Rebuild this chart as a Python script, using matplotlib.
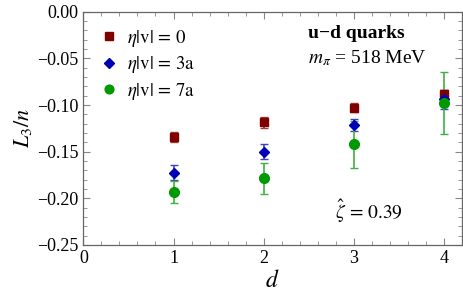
import matplotlib
matplotlib.use("Agg")
import matplotlib.pyplot as plt
from matplotlib.lines import Line2D
from matplotlib.ticker import MultipleLocator, FuncFormatter

plt.rcParams["font.family"] = ["Liberation Serif", "DejaVu Serif"]
plt.rcParams["mathtext.fontset"] = "stix"

d = [1, 2, 3, 4]

# eta|v| = 0
y0 = [-0.134, -0.1186, -0.1029, -0.0877]
e0 = [0.0055, 0.0055, 0.0048, 0.004]
# eta|v| = 3a
y3 = [-0.1725, -0.150, -0.1214, -0.094]
e3 = [0.0084, 0.0084, 0.0068, 0.0098]
# eta|v| = 7a
y7 = [-0.193, -0.1786, -0.142, -0.098]
e7 = [0.0118, 0.0166, 0.025, 0.033]

labels = [r"$\eta|\mathrm{v}|\,=\,0$", r"$\eta|\mathrm{v}|\,=\,3\mathrm{a}$", r"$\eta|\mathrm{v}|\,=\,7\mathrm{a}$"]

fig = plt.figure(figsize=(4.63, 3.02), dpi=100)
ax = fig.add_axes([0.18, 0.189, 0.818, 0.772])

series = [
    (y0, e0, "s", "#800000", "#a04040", 6.0),
    (y3, e3, "D", "#0000b4", "#4040c0", 5.5),
    (y7, e7, "o", "#009a00", "#40b040", 7.0),
]
handles = []
for (ys, es, m, c, ec, ms), lab in zip(series, labels):
    ax.errorbar(d, ys, yerr=es, fmt=m, color=c, ecolor=ec, ms=ms,
                elinewidth=1.2, capsize=3, capthick=1.0)
    handles.append(Line2D([], [], ls="none", marker=m, color=c, ms=ms * 0.9, label=lab))

ax.set_xlim(0, 4.2)
ax.set_ylim(-0.25, 0.0)
ax.xaxis.set_major_locator(MultipleLocator(1))
ax.xaxis.set_minor_locator(MultipleLocator(0.2))
ax.yaxis.set_major_locator(MultipleLocator(0.05))
ax.yaxis.set_minor_locator(MultipleLocator(0.01))
ax.yaxis.set_major_formatter(FuncFormatter(
    lambda v, p: ("\u2212" if v < -1e-9 else "") + f"{abs(v):.2f}"))

for s in ax.spines.values():
    s.set_color("#666666")
    s.set_linewidth(0.9)
ax.tick_params(which="both", direction="in", top=True, right=True,
               color="#888888", labelsize=13)
ax.tick_params(which="major", length=5)
ax.tick_params(which="minor", length=3)

ax.set_xlabel(r"$d$", fontsize=17, labelpad=2)
ax.set_ylabel(r"$L_3/n$", fontsize=16, labelpad=2)

ax.legend(handles=handles, loc="upper left", frameon=False, fontsize=13.5,
          handletextpad=0.5, borderaxespad=0.45, labelspacing=0.3, handlelength=1.0)

ax.text(0.594, 0.905, "u\u2212d quarks", transform=ax.transAxes,
        fontsize=14, fontweight="bold", va="center")
ax.text(0.594, 0.80, r"$m_\pi$ = 518 MeV", transform=ax.transAxes,
        fontsize=14, va="center")
ax.text(0.665, 0.145, r"$\hat{\zeta}\,=\,0.39$", transform=ax.transAxes,
        fontsize=14, va="center")

fig.savefig("out.png", dpi=100)
